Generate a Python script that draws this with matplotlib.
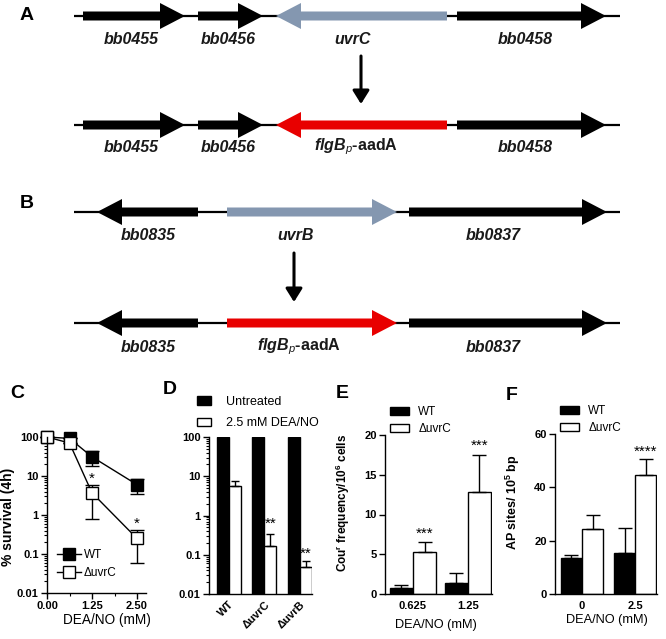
import matplotlib
matplotlib.use('Agg')
import numpy as np
import matplotlib.pyplot as plt
from matplotlib.patches import Polygon, Patch
from matplotlib.lines import Line2D
from matplotlib.ticker import LogLocator, NullFormatter, FormatStrFormatter, MultipleLocator

plt.rcParams['font.family'] = ['Liberation Sans', 'DejaVu Sans']
plt.rcParams['mathtext.fontset'] = 'custom'
plt.rcParams['mathtext.rm'] = 'Liberation Sans'
plt.rcParams['mathtext.it'] = 'Liberation Sans:italic'
plt.rcParams['mathtext.bf'] = 'Liberation Sans:bold'
plt.rcParams['mathtext.bfit'] = 'Liberation Sans:italic:bold'

W, H = 666, 639

# gene maps (drawing units = pixels of the original layout)
a_names = ['bb0455', 'bb0456', 'uvrC', 'bb0458']
a_left = [83, 198, 276, 457]
a_right = [185, 263, 447, 606]
a_strand = [1, 1, -1, 1]
a_label_x = [131, 228, 353, 525]
a_mut = 2

b_names = ['bb0835', 'uvrB', 'bb0837']
b_left = [97, 227, 409]
b_right = [198, 397, 607]
b_strand = [-1, 1, 1]
b_label_x = [148, 296, 493]
b_mut = 1

cassette = r'$\mathbfit{flgB}_{\mathit{p}}$-aadA'

# C: survival curve
c_dose = [0, 0.625, 1.25, 2.5]
c_wt = [100, 92, 31, 6.0]
c_wt_lo = [100, 92, 18, 3.5]
c_wt_hi = [100, 92, 45, 8.4]
c_uvrc = [100, 70, 3.7, 0.25]
c_uvrc_lo = [100, 70, 0.8, 0.06]
c_uvrc_hi = [100, 70, 5.9, 0.42]
c_stars = ['', '', '*', '*']

# D: survival per strain
d_strains = ['WT', '\u0394uvrC', '\u0394uvrB']
d_untreated = [100, 100, 100]
d_untreated_err = [3, 0, 8]
d_treated = [5.6, 0.17, 0.05]
d_treated_err = [2.1, 0.17, 0.02]
d_stars = ['', '**', '**']
d_star_y = [None, 0.5, 0.085]

# E: coumermycin resistance
e_doses = ['0.625', '1.25']
e_wt = [0.8, 1.4]
e_wt_err = [0.3, 1.3]
e_uvrc = [5.3, 12.8]
e_uvrc_err = [1.2, 4.7]
e_stars = ['***', '***']

# F: AP sites
f_doses = ['0', '2.5']
f_wt = [13.5, 15.5]
f_wt_err = [1.0, 9.2]
f_uvrc = [24.5, 44.5]
f_uvrc_err = [5.0, 6.0]
f_stars = ['', '****']

fig = plt.figure(figsize=(W / 100, H / 100), dpi=100)
ax0 = fig.add_axes([0, 0, 1, 1])
ax0.set_xlim(0, W)
ax0.set_ylim(H, 0)
ax0.axis('off')


def px_axes(l, r, top, bottom):
    return fig.add_axes([l / W, 1 - bottom / H, (r - l) / W, (bottom - top) / H])


def gene(left, right, strand, y, color, head=25, hw=13, bw=4.5):
    if strand > 0:
        b = right - head
        pts = [(left, y - bw), (b, y - bw), (b, y - hw), (right, y),
               (b, y + hw), (b, y + bw), (left, y + bw)]
    else:
        b = left + head
        pts = [(right, y - bw), (b, y - bw), (b, y - hw), (left, y),
               (b, y + hw), (b, y + bw), (right, y + bw)]
    ax0.add_patch(Polygon(pts, closed=True, facecolor=color, edgecolor='none', zorder=3))


def gene_row(y, label_y, names, lefts, rights, strands, label_x, mut, mut_color, mut_name=None):
    ax0.plot([74, 620], [y, y], color='black', lw=1.6, zorder=2, solid_capstyle='butt')
    for i in range(len(names)):
        color = mut_color if i == mut else 'black'
        gene(lefts[i], rights[i], strands[i], y, color)
        if i == mut and mut_name is not None:
            ax0.text(label_x[i] + 3, label_y, mut_name, ha='center', va='center',
                     fontsize=11.5, fontweight='bold', color='#1a1a1a')
        else:
            ax0.text(label_x[i], label_y, names[i], ha='center', va='center',
                     fontsize=11.5, fontweight='bold', style='italic', color='#1a1a1a')


grey_blue = '#8497B0'
red = '#E80000'
gene_row(16, 39, a_names, a_left, a_right, a_strand, a_label_x, a_mut, grey_blue)
gene_row(125, 147, a_names, a_left, a_right, a_strand, a_label_x, a_mut, red, cassette)
gene_row(212, 236, b_names, b_left, b_right, b_strand, b_label_x, b_mut, grey_blue)
gene_row(323, 347, b_names, b_left, b_right, b_strand, b_label_x, b_mut, red, cassette)

arrow_kw = dict(arrowstyle='-|>,head_length=0.8,head_width=0.5', lw=2.2, color='black',
                shrinkA=0, shrinkB=0)
ax0.annotate('', xy=(361, 104), xytext=(361, 56), arrowprops=arrow_kw)
ax0.annotate('', xy=(294, 302), xytext=(294, 253), arrowprops=arrow_kw)

# panel letters
for letter, x, y in [('A', 27, 15), ('B', 27, 203), ('C', 17, 393),
                     ('D', 170, 389), ('E', 342, 393), ('F', 512, 395)]:
    ax0.text(x, y, letter, ha='center', va='center', fontsize=14, fontweight='bold')


def style_axes(ax, labelsize=8):
    for s in ['top', 'right']:
        ax.spines[s].set_visible(False)
    for s in ['left', 'bottom']:
        ax.spines[s].set_linewidth(1.0)
    ax.tick_params(axis='both', which='major', direction='out', length=4, width=1,
                   labelsize=labelsize, pad=2)
    ax.tick_params(axis='both', which='minor', direction='out', length=2, width=0.8)
    for lab in ax.get_xticklabels() + ax.get_yticklabels():
        lab.set_fontweight('bold')


def log_axis(ax):
    ax.set_yscale('log')
    ax.set_ylim(0.01, 100)
    ax.set_yticks([0.01, 0.1, 1, 10, 100])
    ax.set_yticklabels(['0.01', '0.1', '1', '10', '100'])
    ax.yaxis.set_minor_locator(LogLocator(base=10, subs=np.arange(2, 10)))
    ax.yaxis.set_minor_formatter(NullFormatter())


# ---- C ----
axC = px_axes(47, 146, 437, 593)
log_axis(axC)
axC.set_xlim(0, 2.75)
axC.set_xticks([0, 1.25, 2.5])
axC.xaxis.set_major_formatter(FormatStrFormatter('%.2f'))
axC.xaxis.set_minor_locator(MultipleLocator(0.625))
for vals, lo, hi, face in [(c_wt, c_wt_lo, c_wt_hi, 'black'),
                           (c_uvrc, c_uvrc_lo, c_uvrc_hi, 'white')]:
    axC.errorbar(c_dose, vals, yerr=[np.subtract(vals, lo), np.subtract(hi, vals)],
                 color='black', lw=1, marker='s', ms=8, mfc=face, mec='black', mew=1,
                 capsize=5, elinewidth=1, capthick=1, clip_on=False)
for xv, hv, s in zip(c_dose, c_uvrc_hi, c_stars):
    if s:
        axC.text(xv, hv * 1.12, s, ha='center', va='baseline', fontsize=11)
style_axes(axC)
handles = [Line2D([], [], color='black', lw=1, marker='s', ms=8, mfc='black', mec='black'),
           Line2D([], [], color='black', lw=1, marker='s', ms=8, mfc='white', mec='black')]
axC.legend(handles, ['WT', '\u0394uvrC'], loc='upper left', bbox_to_anchor=(57, 549),
           bbox_transform=ax0.transData, frameon=False, fontsize=8.5, borderpad=0,
           borderaxespad=0, handlelength=2.0, handletextpad=0.25, labelspacing=0.55)
ax0.text(8, 517, '% survival (4h)', rotation=90, ha='center', va='center',
         fontsize=10, fontweight='bold')
ax0.text(107, 620, 'DEA/NO (mM)', ha='center', va='center', fontsize=9.8)

# ---- D ----
axD = px_axes(209, 312, 437, 594)
log_axis(axD)
xd = np.arange(len(d_strains))
bw = 0.34
axD.set_xlim(-0.56, 2.34)
axD.bar(xd - bw / 2, d_untreated, bw, color='black', edgecolor='black', lw=1,
        yerr=[np.zeros(3), d_untreated_err], capsize=3,
        error_kw=dict(elinewidth=1, capthick=1, ecolor='black'))
axD.bar(xd + bw / 2, d_treated, bw, color='white', edgecolor='black', lw=1,
        yerr=[np.zeros(3), d_treated_err], capsize=3,
        error_kw=dict(elinewidth=1, capthick=1, ecolor='black'))
for xv, yv, s in zip(xd, d_star_y, d_stars):
    if s:
        axD.text(xv + bw / 2, yv, s, ha='center', va='baseline', fontsize=11)
axD.set_xticks(xd)
axD.set_xticklabels(d_strains, rotation=45, ha='right', rotation_mode='anchor')
style_axes(axD)
axD.tick_params(axis='x', length=0, pad=4)
axD.legend([Patch(facecolor='black', edgecolor='black'), Patch(facecolor='white', edgecolor='black')],
           ['Untreated', '2.5 mM DEA/NO'], loc='upper left', bbox_to_anchor=(197, 396),
           bbox_transform=ax0.transData, frameon=False, fontsize=9, borderpad=0,
           borderaxespad=0, handlelength=1.1, handleheight=0.7, handletextpad=1.2,
           labelspacing=0.75)


def bar_panel(ax, doses, wt, wt_err, uv, uv_err, stars, bw, star_pad):
    x = np.arange(len(doses))
    ekw = dict(elinewidth=1, capthick=1, ecolor='black')
    ax.bar(x - bw / 2, wt, bw, color='black', edgecolor='black', lw=1,
           yerr=[np.zeros(len(x)), wt_err], capsize=5, error_kw=ekw)
    ax.bar(x + bw / 2, uv, bw, color='white', edgecolor='black', lw=1,
           yerr=[np.zeros(len(x)), uv_err], capsize=5, error_kw=ekw)
    for xv, v, e, s in zip(x, uv, uv_err, stars):
        if s:
            ax.text(xv + bw / 2, v + e + star_pad, s, ha='center', va='baseline', fontsize=11)
    ax.set_xticks(x)
    ax.set_xticklabels(doses)
    style_axes(ax)
    ax.tick_params(axis='x', length=0, pad=5)
    ax.legend([Patch(facecolor='black', edgecolor='black'), Patch(facecolor='white', edgecolor='black')],
              ['WT', '\u0394uvrC'], loc='upper left',
              bbox_to_anchor=(ax.get_position().x0 * W + 5, ax.get_position().y1 * -H + H - 29),
              bbox_transform=ax0.transData, frameon=False, fontsize=8.5, borderpad=0,
              borderaxespad=0, handlelength=1.6, handleheight=0.7, handletextpad=0.8,
              labelspacing=0.45)


# ---- E ----
axE = px_axes(385, 492, 435, 594)
axE.set_ylim(0, 20)
axE.set_xlim(-0.51, 1.44)
axE.set_yticks([0, 5, 10, 15, 20])
bar_panel(axE, e_doses, e_wt, e_wt_err, e_uvrc, e_uvrc_err, e_stars, 0.42, 0.6)
ax0.text(343, 503, r'Cou$^\mathbf{r}$ frequency/10$^\mathbf{6}$ cells', rotation=90,
         ha='center', va='center', fontsize=8.5, fontweight='bold')
ax0.text(436, 625, 'DEA/NO (mM)', ha='center', va='center', fontsize=9.2)

# ---- F ----
axF = px_axes(555, 657, 434, 594)
axF.set_ylim(0, 60)
axF.set_xlim(-0.51, 1.41)
axF.set_yticks([0, 20, 40, 60])
bar_panel(axF, f_doses, f_wt, f_wt_err, f_uvrc, f_uvrc_err, f_stars, 0.4, 1.2)
ax0.text(513, 502, r'AP sites/ 10$^\mathbf{5}$ bp', rotation=90,
         ha='center', va='center', fontsize=9, fontweight='bold')
ax0.text(607, 620, 'DEA/NO (mM)', ha='center', va='center', fontsize=9.2)

fig.savefig('out.png', dpi=100)
